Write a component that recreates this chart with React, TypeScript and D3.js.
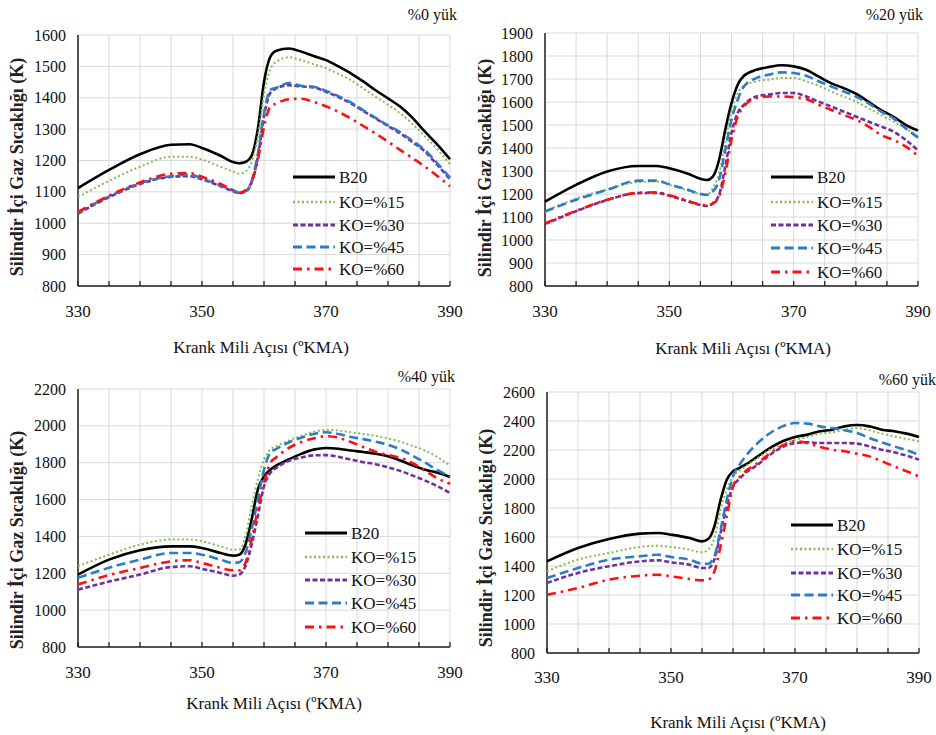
import React from "react";
import * as d3 from "d3";

// ---- Data ----
const angles = [330, 335, 340, 345, 348, 350, 353, 355, 356, 357, 358, 359, 360, 361, 362, 364, 366, 368, 370, 372, 374, 376, 378, 380, 382, 384, 386, 388, 390];

const seriesNames = ["B20", "KO=%15", "KO=%30", "KO=%45", "KO=%60"];
const panelTitles = ["%0 yük", "%20 yük", "%40 yük", "%60 yük"];
const xTickLabels = [330, 350, 370, 390];
const xLabel = "Krank Mili Açısı (ºKMA)";
const yLabel = "Silindir İçi Gaz Sıcaklığı (K)";

// Panel 1: %0 load
const p0_B20 = [1112, 1170, 1220, 1250, 1252, 1240, 1215, 1195, 1191, 1195, 1215, 1300, 1450, 1530, 1550, 1557, 1547, 1533, 1520, 1500, 1478, 1452, 1424, 1398, 1371, 1335, 1291, 1250, 1204];
const p0_KO15 = [1084, 1135, 1180, 1212, 1212, 1203, 1180, 1165, 1158, 1165, 1195, 1275, 1410, 1490, 1515, 1529, 1520, 1507, 1494, 1476, 1456, 1430, 1403, 1378, 1350, 1315, 1276, 1235, 1188];
const p0_KO30 = [1031, 1083, 1125, 1148, 1150, 1140, 1118, 1102, 1096, 1100, 1130, 1210, 1340, 1415, 1430, 1440, 1436, 1433, 1419, 1402, 1382, 1358, 1334, 1310, 1286, 1258, 1228, 1185, 1140];
const p0_KO45 = [1035, 1085, 1128, 1150, 1155, 1143, 1120, 1105, 1098, 1102, 1135, 1220, 1350, 1425, 1432, 1447, 1438, 1435, 1422, 1405, 1385, 1360, 1336, 1312, 1290, 1262, 1232, 1190, 1145];
const p0_KO60 = [1036, 1088, 1130, 1158, 1160, 1148, 1125, 1105, 1097, 1105, 1132, 1201, 1307, 1371, 1382, 1395, 1397, 1387, 1373, 1355, 1334, 1310, 1286, 1260, 1233, 1207, 1180, 1150, 1118];

// Panel 2: %20 load
const p1_B20 = [1167, 1240, 1298, 1322, 1322, 1312, 1288, 1266, 1261, 1276, 1348, 1479, 1595, 1675, 1714, 1740, 1752, 1760, 1755, 1740, 1711, 1682, 1661, 1636, 1602, 1566, 1537, 1501, 1476];
const p1_KO15 = [1124, 1180, 1220, 1252, 1254, 1240, 1215, 1200, 1196, 1225, 1290, 1420, 1560, 1639, 1671, 1690, 1697, 1704, 1704, 1690, 1671, 1646, 1624, 1602, 1573, 1544, 1515, 1486, 1450];
const p1_KO30 = [1070, 1125, 1174, 1204, 1205, 1192, 1168, 1152, 1148, 1160, 1196, 1320, 1465, 1552, 1588, 1624, 1632, 1639, 1639, 1624, 1602, 1581, 1559, 1537, 1515, 1494, 1472, 1436, 1389];
const p1_KO45 = [1124, 1175, 1218, 1258, 1258, 1242, 1218, 1200, 1196, 1210, 1261, 1392, 1523, 1610, 1668, 1704, 1719, 1729, 1726, 1714, 1690, 1668, 1646, 1624, 1595, 1559, 1530, 1486, 1445];
const p1_KO60 = [1072, 1127, 1175, 1205, 1207, 1195, 1170, 1154, 1150, 1158, 1189, 1290, 1436, 1537, 1581, 1617, 1624, 1624, 1621, 1613, 1588, 1566, 1544, 1523, 1494, 1457, 1436, 1407, 1366];

// Panel 3: %40 load
const p2_B20 = [1193, 1274, 1325, 1346, 1346, 1337, 1310, 1296, 1301, 1355, 1491, 1654, 1726, 1762, 1785, 1818, 1848, 1871, 1880, 1876, 1866, 1858, 1849, 1835, 1812, 1785, 1762, 1745, 1723];
const p2_KO15 = [1238, 1301, 1355, 1383, 1383, 1374, 1346, 1328, 1328, 1401, 1563, 1708, 1817, 1871, 1890, 1920, 1946, 1967, 1978, 1975, 1965, 1956, 1946, 1932, 1914, 1891, 1866, 1830, 1784];
const p2_KO30 = [1111, 1155, 1193, 1234, 1238, 1224, 1202, 1187, 1193, 1238, 1355, 1509, 1672, 1744, 1772, 1810, 1828, 1840, 1841, 1832, 1817, 1803, 1792, 1775, 1755, 1730, 1703, 1672, 1636];
const p2_KO45 = [1175, 1230, 1274, 1310, 1310, 1301, 1274, 1256, 1260, 1310, 1437, 1600, 1762, 1853, 1875, 1910, 1936, 1956, 1965, 1956, 1940, 1928, 1914, 1898, 1872, 1838, 1800, 1760, 1726];
const p2_KO60 = [1139, 1190, 1229, 1265, 1271, 1256, 1229, 1216, 1216, 1256, 1383, 1546, 1690, 1798, 1830, 1880, 1912, 1932, 1944, 1936, 1912, 1885, 1860, 1842, 1826, 1797, 1756, 1715, 1686];

// Panel 4: %60 load
const p3_B20 = [1432, 1524, 1586, 1623, 1628, 1616, 1593, 1570, 1586, 1674, 1857, 1995, 2053, 2075, 2099, 2156, 2214, 2260, 2290, 2306, 2329, 2340, 2363, 2372, 2363, 2340, 2329, 2313, 2290];
const p3_KO15 = [1363, 1444, 1490, 1531, 1540, 1531, 1513, 1494, 1513, 1593, 1789, 1926, 2018, 2055, 2087, 2145, 2202, 2237, 2271, 2290, 2313, 2322, 2340, 2352, 2336, 2313, 2294, 2276, 2260];
const p3_KO30 = [1283, 1352, 1398, 1432, 1439, 1425, 1409, 1386, 1386, 1444, 1628, 1811, 1949, 2000, 2041, 2099, 2168, 2221, 2248, 2253, 2248, 2248, 2248, 2244, 2225, 2202, 2184, 2161, 2133];
const p3_KO45 = [1317, 1386, 1444, 1467, 1478, 1462, 1444, 1416, 1416, 1467, 1651, 1857, 2018, 2095, 2156, 2248, 2317, 2363, 2386, 2382, 2363, 2352, 2336, 2317, 2283, 2253, 2225, 2198, 2168];
const p3_KO60 = [1202, 1248, 1306, 1333, 1340, 1329, 1310, 1301, 1306, 1363, 1536, 1743, 1949, 2010, 2053, 2110, 2179, 2230, 2260, 2248, 2221, 2202, 2191, 2175, 2156, 2122, 2087, 2053, 2018];

const panelData = [
  [p0_B20, p0_KO15, p0_KO30, p0_KO45, p0_KO60],
  [p1_B20, p1_KO15, p1_KO30, p1_KO45, p1_KO60],
  [p2_B20, p2_KO15, p2_KO30, p2_KO45, p2_KO60],
  [p3_B20, p3_KO15, p3_KO30, p3_KO45, p3_KO60],
];
const yDomains: [number, number][] = [[800, 1600], [800, 1900], [800, 2200], [800, 2600]];
const yTickSteps = [100, 100, 200, 200];

// ---- Styles / layout ----
const styles = [
  { color: "#000000", width: 2.6, dash: "" },
  { color: "#7fbf4f", width: 2, dash: "2,2.5" },
  { color: "#7030a0", width: 2.6, dash: "5,2.5" },
  { color: "#2e7cc4", width: 2.6, dash: "9,4.5" },
  { color: "#ff1010", width: 2.6, dash: "9,5,2.5,5" },
];

const layouts = [
  { left: 78, right: 450, top: 35, bottom: 286, titleX: 457, titleY: 20, yLabX: 17, yLabY: 167, xLabX: 261, xLabY: 353, tickY: 317, legX: 293, legY: [177, 202, 225, 247, 269] },
  { left: 545, right: 918, top: 33, bottom: 286, titleX: 923, titleY: 20, yLabX: 485, yLabY: 168, xLabX: 743, xLabY: 354, tickY: 317, legX: 771, legY: [177, 202, 225, 248, 272] },
  { left: 78, right: 450, top: 389, bottom: 647, titleX: 455, titleY: 382, yLabX: 17, yLabY: 540, xLabX: 274, xLabY: 709, tickY: 678, legX: 305, legY: [533, 557, 580, 603, 627] },
  { left: 547, right: 919, top: 392, bottom: 653, titleX: 936, titleY: 385, yLabX: 486, yLabY: 538, xLabX: 738, xLabY: 728, tickY: 683, legX: 791, legY: [525, 549, 573, 595, 618] },
];

const FF = "Liberation Serif, serif";

function Panel({ idx }: { idx: number }) {
  const L = layouts[idx];
  const x = d3.scaleLinear().domain([330, 390]).range([L.left, L.right]);
  const y = d3.scaleLinear().domain(yDomains[idx]).range([L.bottom, L.top]);
  const yTicks = d3.range(yDomains[idx][0], yDomains[idx][1] + 1, yTickSteps[idx]);
  const xGrid = d3.range(330, 391, 5);
  const line = d3
    .line<number>()
    .x((_, i) => x(angles[i]))
    .y((v) => y(v))
    .curve(d3.curveMonotoneX);

  return (
    <g>
      {yTicks.map((t) => (
        <line key={"h" + t} x1={L.left} x2={L.right} y1={y(t)} y2={y(t)} stroke="#d9d9d9" strokeWidth={1} />
      ))}
      {xGrid.map((t) => (
        <line key={"v" + t} x1={x(t)} x2={x(t)} y1={L.top} y2={L.bottom} stroke="#d9d9d9" strokeWidth={1} />
      ))}
      <line x1={L.left} x2={L.left} y1={L.top} y2={L.bottom} stroke="#222" strokeWidth={1.5} />
      <line x1={L.left} x2={L.right} y1={L.bottom} y2={L.bottom} stroke="#222" strokeWidth={1.5} />
      {xGrid.map((t) => (
        <line key={"t" + t} x1={x(t)} x2={x(t)} y1={L.bottom} y2={L.bottom - 5} stroke="#222" strokeWidth={1.3} />
      ))}
      {yTicks.map((t) => (
        <text key={"yl" + t} x={L.left - 12} y={y(t)} dy="0.35em" textAnchor="end" fontSize={16} fontFamily={FF} fill="#111">
          {t}
        </text>
      ))}
      {xTickLabels.map((t) => (
        <text key={"xl" + t} x={x(t)} y={L.tickY} textAnchor="middle" fontSize={17} fontFamily={FF} fill="#111">
          {t}
        </text>
      ))}
      {panelData[idx].map((s, i) => (
        <path
          key={"s" + i}
          d={line(s) || ""}
          fill="none"
          stroke={styles[i].color}
          strokeWidth={styles[i].width}
          strokeDasharray={styles[i].dash}
          strokeLinejoin="round"
        />
      ))}
      {seriesNames.map((n, i) => (
        <g key={"lg" + i}>
          <line
            x1={L.legX}
            x2={L.legX + 42}
            y1={L.legY[i]}
            y2={L.legY[i]}
            stroke={styles[i].color}
            strokeWidth={styles[i].width + 0.4}
            strokeDasharray={styles[i].dash}
          />
          <text x={L.legX + 46} y={L.legY[i]} dy="0.35em" fontSize={17} fontFamily={FF} fill="#111">
            {n}
          </text>
        </g>
      ))}
      <text x={L.titleX} y={L.titleY} textAnchor="end" fontSize={16} fontFamily={FF} fill="#111">
        {panelTitles[idx]}
      </text>
      <text x={L.xLabX} y={L.xLabY} textAnchor="middle" fontSize={17} fontFamily={FF} fill="#111">
        {xLabel}
      </text>
      <text
        transform={`translate(${L.yLabX},${L.yLabY}) rotate(-90)`}
        textAnchor="middle"
        dy="0.35em"
        fontSize={18}
        fontWeight="bold"
        fontFamily={FF}
        fill="#222"
      >
        {yLabel}
      </text>
    </g>
  );
}

export default function App() {
  return (
    <svg
      width={936}
      height={735}
      viewBox="0 0 936 735"
      fontFamily={FF}
      style={{ position: "absolute", left: 0, top: 0, background: "#fff" }}
    >
      <rect x={0} y={0} width={936} height={735} fill="#fff" />
      {[0, 1, 2, 3].map((i) => (
        <Panel key={i} idx={i} />
      ))}
    </svg>
  );
}
